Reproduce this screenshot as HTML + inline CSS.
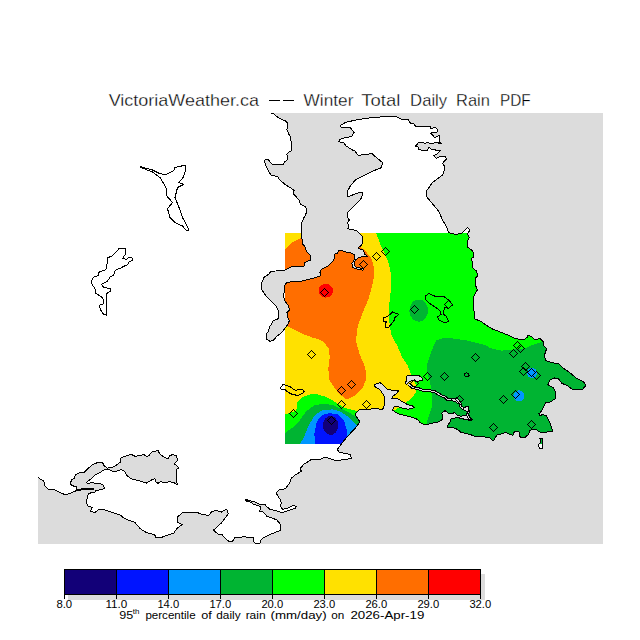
<!DOCTYPE html>
<html><head><meta charset="utf-8"><style>
html,body{margin:0;padding:0;background:#fff;width:640px;height:640px;overflow:hidden;position:relative}
</style></head><body>
<svg width="640" height="640" viewBox="0 0 640 640" style="position:absolute;left:0;top:0" shape-rendering="crispEdges">
<defs><clipPath id="land"><polygon points="38,113 271.4,113 273.75,113.6 276.6,116.4 280.3,118.8 285,120.7 287.3,123 287.3,126.75 286.9,129.6 288.75,134.25 290.2,136.1 290.6,140.8 291.6,141.75 291.6,150.7 289.7,151.6 286.9,154 287.3,156.75 287.3,160 284.5,161.9 283.6,164.25 272.3,164.25 269.5,161.4 268.6,159.6 265.3,159.6 264.4,161.4 265.3,164.25 267.2,168 268.4,171.25 271.25,175 277.8,176.9 279.7,179.7 284.4,183.9 290.9,188.1 294.2,190.5 293.3,193.75 299.4,200.3 300.3,204.1 305.9,206.9 306.4,210.6 305.9,214.4 303.6,218.1 301.9,222.5 301.25,226.25 301.25,237.5 302.5,240 302.5,243.75 305,246.9 306.25,251.25 310,255 310.6,260 307.5,261.25 305,262.5 303.75,266.9 296.25,266.9 293.1,266.25 288.75,268.1 283.75,270.6 270.6,271.25 269.4,273.75 263.75,277.5 262.5,281.25 261.25,282.5 261.25,283.75 261.9,290 266.25,296.25 271.25,301.25 276.25,306.25 278.1,310 278.1,318.75 272.5,321.25 271.25,325 269.4,326.9 268.75,331.25 266.25,333.75 266.9,339.4 270,341.25 273.1,340.6 276.25,336.9 280,333.75 283.75,330 287.5,325 289.4,320.6 287.5,317.5 286.9,312.5 289.4,310 288.75,306.25 285,301.25 283.75,297.5 284.4,286.25 286.25,283.1 290,281.9 298.75,281.9 306.25,280 316.25,277.5 320.6,275.6 320,272.5 321.25,269.4 327.5,266.25 330,264.2 333.9,260.3 334.7,254 337.8,252.9 338.6,250.5 341.7,250.2 344,251.7 351.1,252.9 354.2,254.5 355,258 353.4,261.1 351.9,263.4 352.7,267.3 355.8,268.75 362.8,270.1 363.6,268.9 356.6,267.3 355,265.8 354.2,262.7 355.8,259.9 358.1,258 362,256.8 367.5,256.4 364.4,254 363.6,250.2 358.9,248.6 358.1,247.4 361.25,245.5 362.8,243.1 362,240 362.5,236.25 360,233.75 357.5,231.25 353.75,230 347.5,228.75 348.75,226.25 347.5,222.5 349.4,220 347.5,217.5 347.2,213.1 352.3,208 357.5,202.8 361.8,197.7 362.7,192.5 359.2,192.5 352.3,195.1 348,196.8 347.2,191.6 350.6,185.6 355.8,179.6 364.4,175.3 373,171 381.6,167.6 382.4,162.4 378.1,159 372.1,153.8 364.4,154.3 358.4,155.5 354.9,151.1 351.5,149.5 346.3,146.1 343.75,142.7 338.6,141.8 340.3,139.2 345.5,137.5 351.5,136.6 354.1,132.3 350.6,128 341.2,127.2 340.3,125.5 345.5,122.4 355.8,120 366.1,118.25 381.6,116.9 396.2,116.5 400.5,118.6 402.8,119.8 405.6,119.2 408.4,119.8 410.3,123.1 414.1,124.1 415.5,126.4 430,126.4 430.9,128.75 434.7,127.3 437,128.75 437.5,132 432.8,132.5 430.5,133.4 432.8,135.3 434.7,137.65 437.5,136.25 439.4,135.3 439.8,142.3 441.25,143.3 436.6,142.8 430,143.3 427.2,142.3 425.3,143.75 423.4,142.3 418.75,142.3 415.5,146.1 417.8,146.6 418.75,149.4 421.6,150.3 427.2,150.3 429.1,147.5 431.9,149.4 440.3,150.8 436.6,154.1 433.75,155.5 436.1,158.3 439.4,156.9 445.5,156.4 446.4,159.2 443.1,162.5 442.7,163.9 444.5,166.25 444.5,170 442.5,175 432.5,182.5 426.25,191.25 426.25,196.25 432.5,203.75 438.75,211.25 442.5,220 446.25,226.25 448.75,232.8 455.3,234.2 460.9,233.75 463.75,231.4 465.6,229.5 467.5,227.5 470,230 467.5,233.75 469.4,237.5 467.5,241.25 467.5,246.9 471.25,249.7 473.6,252.5 473.6,257.2 471.7,258.1 472.2,262.8 473.1,268.4 476.9,271.25 477.3,276 475.9,277.8 475.9,286.25 477.3,290 473.75,296.25 473.75,307.5 474.7,318.75 481.25,321.6 485,324.4 492.5,329 500,331.9 508.4,335.3 515,338.6 523.75,339.7 527,337.5 528,335.3 531.4,336.4 534.7,339.7 540.2,338.6 543.4,341.9 543.4,345.2 546.7,348.4 544.5,355 545.6,360.5 552.2,362.7 558.75,364 563,368 569.7,372.5 576.25,378 584,382.3 586,385.6 582.8,389 571.9,389 567.5,385.6 562,383.4 558.75,379 554.4,378 550,380.2 547.8,384.5 553.3,387.8 555.5,392.2 555.5,398.75 550,402 545.6,403 543.4,407.5 540.2,413 538.9,413.5 539.5,415.3 543.6,414.7 546.5,415.9 548.3,419.4 549.5,421.7 550.6,425.2 553,431.1 548.3,431.7 542.4,432.9 540.1,432.3 536.6,429.9 531.9,429.3 529.5,431.1 528.4,434.6 524.8,437.5 520.2,437.5 519,431.7 514.3,431.7 513.1,435.2 509.6,434.6 506.1,432.3 501.4,434 496.7,435.2 494.4,439.3 493.2,441 491.4,439.3 489.7,437.5 485,437 482.5,436.9 475,436.5 470,434.4 461.25,432.5 457.5,429.4 452.5,427.25 447.5,427.25 448.1,425 450,421.9 451.25,418.75 457.5,417.5 462.5,418.75 467.5,420 471.25,420.6 467.5,413.1 466.25,415 461.25,416.25 457.5,415.6 454.4,412.5 452.5,413.75 448.1,413.1 445,410.6 441.9,413.1 442.5,417.5 441.9,420 437.5,422.5 432.5,423.1 425,425 420,422.5 417.5,419.4 411.25,417 405,415.5 398.75,413.9 395.6,412.3 392.5,410 394,406.9 398.75,406.9 403.4,408.4 408.1,409.2 414.4,407.7 412.8,406.1 407.3,404.5 401.9,401.4 397.2,398.3 391.7,398.3 392.5,396.7 397.2,392.8 398.75,390.5 392.5,390.5 387,388.9 383.1,385 380,382.7 376.9,383.4 374.5,385 375.3,387.3 380,389.7 381.6,392 383.1,394.4 384.7,397.5 384.7,402.2 383.9,406.9 382.3,410 376.9,408.4 369,409.2 358.9,410 357.3,411.6 355,414.7 357.3,417.8 359.7,421.7 357.3,425.6 353.4,430.3 347.2,436.6 341.7,443.6 337.2,449.5 339.5,452.7 346.6,453.4 350.5,455 351.25,458.1 345,459.7 335.6,460.5 331,458.9 326.25,457.3 322.3,458.1 320,459.7 311.4,459.4 307.5,462 303.6,464.4 300.5,468.3 301.25,471.4 295.8,474.5 291.1,478.4 289.5,483.1 285.6,488.6 278.6,490.2 276.25,493.3 278.6,497.2 280.6,500 281.25,502.5 280.6,506.25 282.5,509.4 287.5,508.1 292.5,505.6 296.25,506.25 295.6,508.1 290,510 285,511.9 281.25,512.5 276.25,510.6 270,509.4 266.25,506.25 265,504.4 260,504.4 256.25,502.5 250,500.6 245,499.4 245,500.6 250,501.9 253.75,504.4 260,506.25 260.6,508.75 259.4,511.25 263.1,511.9 266.9,516.25 272.5,518.1 276.9,520 280,523.75 280.6,527.5 280,530.6 275,532.5 270,534.4 265,536.9 261.25,539.4 260,543.1 256.25,543.75 253.75,541.9 253.75,537.5 243.75,536.9 235,537.5 232.5,541.25 228.75,541.25 225,538.1 221.9,534.4 218.1,534 213.4,530.2 221.25,523.1 228.3,513.75 226.7,509.1 221.25,512.2 216.6,510.6 211.9,511.4 208.75,515.3 202.5,514.5 196.25,512.2 190,513 183,512.2 177.5,516.9 177.5,522.3 182.2,524.7 177.5,527.8 173.6,533.3 168.9,534.8 161.9,537.2 155.6,537.2 154.8,534.8 146.25,532.5 140,528.5 135,522.5 125,518.75 120,515 112.5,512.5 105,510 98.75,509.4 95,512.5 90,511.25 92.5,507.5 88.1,506.25 86.25,502.5 87.7,495.5 89.2,493.1 94.7,492.7 95.5,490.8 102.5,489.2 104.5,488 103.3,485.3 100.9,483.75 96.25,483.4 91.6,482.6 87.7,483.5 86.5,482.5 88.4,480.8 90.7,479.2 92.3,477.5 94.7,475.2 99.4,472.8 104,470 108.75,469.7 111.25,470.6 115,471.9 121.25,469.4 125,471.9 127.5,476.25 132.5,479.4 138.75,480.6 146.25,483.1 152.5,479.4 154.8,478.6 155.6,481.7 158,483.3 160.3,481.7 165,482.5 169.7,481.7 173.6,482.5 177.5,484.8 176,479.4 176.7,474.7 176,470 179,467.7 174.4,463.75 177.5,460.6 176.7,455.9 172.8,454.4 169.7,455.9 168.1,459 163.4,456.7 159.5,453.6 158,450.5 151.7,452 148.6,455.9 146.25,456.25 143.75,454.4 140,455.6 135,456.25 131.25,454.4 125,456.25 120.6,458.1 120.6,461.9 117.5,464.4 112.5,467.5 107.5,468.1 104.4,466.25 102.5,462.5 97.5,462.5 92.3,465 88.4,468.1 84.5,472 78.3,473.2 75.2,475.2 74.4,478.3 71.25,480.2 70.5,484.5 73.6,486.1 76.7,486.5 77.1,489.2 75.9,490.8 69.7,493.5 65,494.7 61.25,493 53.75,489.5 48.75,489.5 45,486.25 43.75,481.25 38,477.5"/><polygon points="539.5,438.2 542.4,438.2 542.4,448.7 539.5,448.7 538.5,444.5 540.3,443 540.5,440.5"/></clipPath>
<clipPath id="dom"><rect x="285" y="233" width="318" height="211"/></clipPath></defs>
<rect x="38" y="113" width="565" height="431" fill="#dcdcdc"/>
<polygon points="38,113 271.4,113 273.75,113.6 276.6,116.4 280.3,118.8 285,120.7 287.3,123 287.3,126.75 286.9,129.6 288.75,134.25 290.2,136.1 290.6,140.8 291.6,141.75 291.6,150.7 289.7,151.6 286.9,154 287.3,156.75 287.3,160 284.5,161.9 283.6,164.25 272.3,164.25 269.5,161.4 268.6,159.6 265.3,159.6 264.4,161.4 265.3,164.25 267.2,168 268.4,171.25 271.25,175 277.8,176.9 279.7,179.7 284.4,183.9 290.9,188.1 294.2,190.5 293.3,193.75 299.4,200.3 300.3,204.1 305.9,206.9 306.4,210.6 305.9,214.4 303.6,218.1 301.9,222.5 301.25,226.25 301.25,237.5 302.5,240 302.5,243.75 305,246.9 306.25,251.25 310,255 310.6,260 307.5,261.25 305,262.5 303.75,266.9 296.25,266.9 293.1,266.25 288.75,268.1 283.75,270.6 270.6,271.25 269.4,273.75 263.75,277.5 262.5,281.25 261.25,282.5 261.25,283.75 261.9,290 266.25,296.25 271.25,301.25 276.25,306.25 278.1,310 278.1,318.75 272.5,321.25 271.25,325 269.4,326.9 268.75,331.25 266.25,333.75 266.9,339.4 270,341.25 273.1,340.6 276.25,336.9 280,333.75 283.75,330 287.5,325 289.4,320.6 287.5,317.5 286.9,312.5 289.4,310 288.75,306.25 285,301.25 283.75,297.5 284.4,286.25 286.25,283.1 290,281.9 298.75,281.9 306.25,280 316.25,277.5 320.6,275.6 320,272.5 321.25,269.4 327.5,266.25 330,264.2 333.9,260.3 334.7,254 337.8,252.9 338.6,250.5 341.7,250.2 344,251.7 351.1,252.9 354.2,254.5 355,258 353.4,261.1 351.9,263.4 352.7,267.3 355.8,268.75 362.8,270.1 363.6,268.9 356.6,267.3 355,265.8 354.2,262.7 355.8,259.9 358.1,258 362,256.8 367.5,256.4 364.4,254 363.6,250.2 358.9,248.6 358.1,247.4 361.25,245.5 362.8,243.1 362,240 362.5,236.25 360,233.75 357.5,231.25 353.75,230 347.5,228.75 348.75,226.25 347.5,222.5 349.4,220 347.5,217.5 347.2,213.1 352.3,208 357.5,202.8 361.8,197.7 362.7,192.5 359.2,192.5 352.3,195.1 348,196.8 347.2,191.6 350.6,185.6 355.8,179.6 364.4,175.3 373,171 381.6,167.6 382.4,162.4 378.1,159 372.1,153.8 364.4,154.3 358.4,155.5 354.9,151.1 351.5,149.5 346.3,146.1 343.75,142.7 338.6,141.8 340.3,139.2 345.5,137.5 351.5,136.6 354.1,132.3 350.6,128 341.2,127.2 340.3,125.5 345.5,122.4 355.8,120 366.1,118.25 381.6,116.9 396.2,116.5 400.5,118.6 402.8,119.8 405.6,119.2 408.4,119.8 410.3,123.1 414.1,124.1 415.5,126.4 430,126.4 430.9,128.75 434.7,127.3 437,128.75 437.5,132 432.8,132.5 430.5,133.4 432.8,135.3 434.7,137.65 437.5,136.25 439.4,135.3 439.8,142.3 441.25,143.3 436.6,142.8 430,143.3 427.2,142.3 425.3,143.75 423.4,142.3 418.75,142.3 415.5,146.1 417.8,146.6 418.75,149.4 421.6,150.3 427.2,150.3 429.1,147.5 431.9,149.4 440.3,150.8 436.6,154.1 433.75,155.5 436.1,158.3 439.4,156.9 445.5,156.4 446.4,159.2 443.1,162.5 442.7,163.9 444.5,166.25 444.5,170 442.5,175 432.5,182.5 426.25,191.25 426.25,196.25 432.5,203.75 438.75,211.25 442.5,220 446.25,226.25 448.75,232.8 455.3,234.2 460.9,233.75 463.75,231.4 465.6,229.5 467.5,227.5 470,230 467.5,233.75 469.4,237.5 467.5,241.25 467.5,246.9 471.25,249.7 473.6,252.5 473.6,257.2 471.7,258.1 472.2,262.8 473.1,268.4 476.9,271.25 477.3,276 475.9,277.8 475.9,286.25 477.3,290 473.75,296.25 473.75,307.5 474.7,318.75 481.25,321.6 485,324.4 492.5,329 500,331.9 508.4,335.3 515,338.6 523.75,339.7 527,337.5 528,335.3 531.4,336.4 534.7,339.7 540.2,338.6 543.4,341.9 543.4,345.2 546.7,348.4 544.5,355 545.6,360.5 552.2,362.7 558.75,364 563,368 569.7,372.5 576.25,378 584,382.3 586,385.6 582.8,389 571.9,389 567.5,385.6 562,383.4 558.75,379 554.4,378 550,380.2 547.8,384.5 553.3,387.8 555.5,392.2 555.5,398.75 550,402 545.6,403 543.4,407.5 540.2,413 538.9,413.5 539.5,415.3 543.6,414.7 546.5,415.9 548.3,419.4 549.5,421.7 550.6,425.2 553,431.1 548.3,431.7 542.4,432.9 540.1,432.3 536.6,429.9 531.9,429.3 529.5,431.1 528.4,434.6 524.8,437.5 520.2,437.5 519,431.7 514.3,431.7 513.1,435.2 509.6,434.6 506.1,432.3 501.4,434 496.7,435.2 494.4,439.3 493.2,441 491.4,439.3 489.7,437.5 485,437 482.5,436.9 475,436.5 470,434.4 461.25,432.5 457.5,429.4 452.5,427.25 447.5,427.25 448.1,425 450,421.9 451.25,418.75 457.5,417.5 462.5,418.75 467.5,420 471.25,420.6 467.5,413.1 466.25,415 461.25,416.25 457.5,415.6 454.4,412.5 452.5,413.75 448.1,413.1 445,410.6 441.9,413.1 442.5,417.5 441.9,420 437.5,422.5 432.5,423.1 425,425 420,422.5 417.5,419.4 411.25,417 405,415.5 398.75,413.9 395.6,412.3 392.5,410 394,406.9 398.75,406.9 403.4,408.4 408.1,409.2 414.4,407.7 412.8,406.1 407.3,404.5 401.9,401.4 397.2,398.3 391.7,398.3 392.5,396.7 397.2,392.8 398.75,390.5 392.5,390.5 387,388.9 383.1,385 380,382.7 376.9,383.4 374.5,385 375.3,387.3 380,389.7 381.6,392 383.1,394.4 384.7,397.5 384.7,402.2 383.9,406.9 382.3,410 376.9,408.4 369,409.2 358.9,410 357.3,411.6 355,414.7 357.3,417.8 359.7,421.7 357.3,425.6 353.4,430.3 347.2,436.6 341.7,443.6 337.2,449.5 339.5,452.7 346.6,453.4 350.5,455 351.25,458.1 345,459.7 335.6,460.5 331,458.9 326.25,457.3 322.3,458.1 320,459.7 311.4,459.4 307.5,462 303.6,464.4 300.5,468.3 301.25,471.4 295.8,474.5 291.1,478.4 289.5,483.1 285.6,488.6 278.6,490.2 276.25,493.3 278.6,497.2 280.6,500 281.25,502.5 280.6,506.25 282.5,509.4 287.5,508.1 292.5,505.6 296.25,506.25 295.6,508.1 290,510 285,511.9 281.25,512.5 276.25,510.6 270,509.4 266.25,506.25 265,504.4 260,504.4 256.25,502.5 250,500.6 245,499.4 245,500.6 250,501.9 253.75,504.4 260,506.25 260.6,508.75 259.4,511.25 263.1,511.9 266.9,516.25 272.5,518.1 276.9,520 280,523.75 280.6,527.5 280,530.6 275,532.5 270,534.4 265,536.9 261.25,539.4 260,543.1 256.25,543.75 253.75,541.9 253.75,537.5 243.75,536.9 235,537.5 232.5,541.25 228.75,541.25 225,538.1 221.9,534.4 218.1,534 213.4,530.2 221.25,523.1 228.3,513.75 226.7,509.1 221.25,512.2 216.6,510.6 211.9,511.4 208.75,515.3 202.5,514.5 196.25,512.2 190,513 183,512.2 177.5,516.9 177.5,522.3 182.2,524.7 177.5,527.8 173.6,533.3 168.9,534.8 161.9,537.2 155.6,537.2 154.8,534.8 146.25,532.5 140,528.5 135,522.5 125,518.75 120,515 112.5,512.5 105,510 98.75,509.4 95,512.5 90,511.25 92.5,507.5 88.1,506.25 86.25,502.5 87.7,495.5 89.2,493.1 94.7,492.7 95.5,490.8 102.5,489.2 104.5,488 103.3,485.3 100.9,483.75 96.25,483.4 91.6,482.6 87.7,483.5 86.5,482.5 88.4,480.8 90.7,479.2 92.3,477.5 94.7,475.2 99.4,472.8 104,470 108.75,469.7 111.25,470.6 115,471.9 121.25,469.4 125,471.9 127.5,476.25 132.5,479.4 138.75,480.6 146.25,483.1 152.5,479.4 154.8,478.6 155.6,481.7 158,483.3 160.3,481.7 165,482.5 169.7,481.7 173.6,482.5 177.5,484.8 176,479.4 176.7,474.7 176,470 179,467.7 174.4,463.75 177.5,460.6 176.7,455.9 172.8,454.4 169.7,455.9 168.1,459 163.4,456.7 159.5,453.6 158,450.5 151.7,452 148.6,455.9 146.25,456.25 143.75,454.4 140,455.6 135,456.25 131.25,454.4 125,456.25 120.6,458.1 120.6,461.9 117.5,464.4 112.5,467.5 107.5,468.1 104.4,466.25 102.5,462.5 97.5,462.5 92.3,465 88.4,468.1 84.5,472 78.3,473.2 75.2,475.2 74.4,478.3 71.25,480.2 70.5,484.5 73.6,486.1 76.7,486.5 77.1,489.2 75.9,490.8 69.7,493.5 65,494.7 61.25,493 53.75,489.5 48.75,489.5 45,486.25 43.75,481.25 38,477.5" fill="#fff"/>
<polygon points="539.5,438.2 542.4,438.2 542.4,448.7 539.5,448.7 538.5,444.5 540.3,443 540.5,440.5" fill="#fff"/>
<g clip-path="url(#land)"><g clip-path="url(#dom)">
<rect x="285" y="233" width="318" height="211" fill="#00ff00"/>
<polygon points="285,233 376.25,233 380,243.75 385,253.75 389,264 391,275 391.5,285 390,297.5 388.75,310 389.4,322.5 391.25,335 396.9,345 402.5,358 407.5,365 410.5,373 414,380.3 416.25,386 415.5,393 411,399 406,402.5 398,408 392,412 385,444 285,444" fill="#ffe100"/>
<polygon points="285,249.4 291.25,242.8 300.6,238.1 330,236 355,242 365.2,250.9 370.6,257.2 372.6,261.9 373.75,267.5 373.75,277.5 371.9,286.9 368.1,300 362.5,313.1 357.8,326.25 355.9,341.25 359.7,354.4 365.3,367.5 366.25,378.75 362.5,388.1 355,395.6 346.6,399.4 340,394.7 333.4,386.25 328.75,378.75 328.4,367.5 329.7,358.1 329.1,348.75 323.1,341.25 320,340 312.5,337.5 302.5,333.75 292.5,328.75 285,325" fill="#ff6e00"/>
<ellipse cx="325.8" cy="290.8" rx="7.3" ry="6.8" fill="#ff0000"/>
<polygon points="285,414.4 296.25,410.6 297.5,402.5 302.5,396.9 310,394.4 317.5,394.4 326.25,396.9 335,401.9 343.75,407.5 352.5,410 358,411 365,412 365,444 285,444" fill="#00ff00"/>
<polygon points="285,433.1 292.5,427.5 300,420 306.25,411.25 313.75,405.6 322.5,403.75 332.5,405 341.25,408.75 350,413.1 356.25,416.9 362,421.5 362,444 285,444" fill="#00b432"/>
<polygon points="299.7,444 303.75,437.5 308.75,425 315,415 322.5,410 332.5,409.4 340,411.25 347.5,416.25 353.75,422.5 359,428 362,444" fill="#0096ff"/>
<polygon points="315,444 314.4,433.75 316.9,421.25 322.5,415 330,413.1 337.5,414.4 343.75,420 346.9,430 346.9,444" fill="#0014ff"/>
<ellipse cx="330.6" cy="425.4" rx="7.6" ry="9.6" fill="#120078"/>
<polygon points="426,444 427,421 431.5,408 432.5,396 430,382 427.5,373 427,365 429,358 432.5,348.75 436.25,340.3 445.6,337.5 466.25,340.3 485,345 491,348.4 501.9,350.6 512.8,349.5 524.7,348.3 534,344.4 541.9,342 603,330 603,444" fill="#00b432"/>
<ellipse cx="418.75" cy="310.6" rx="9.4" ry="11" fill="#00b432"/>
<circle cx="532" cy="373" r="5" fill="#0096ff"/>
<circle cx="518.9" cy="395.8" r="5.5" fill="#0096ff"/>
</g></g>
<polyline points="408.5,384 412.5,387.5 418.75,388.75 422,390 430,390.9 434.7,391.6 437.8,393.6 441.7,395.9 444.8,396.9 447.2,399.1 451.9,399.5 456.6,399.8 460.5,403.75 461,406.9 463.6,408.8 467.5,409 468.3,411.6 467.5,414.7 469,417.8 471.4,420.5" fill="none" stroke="#000" stroke-width="3"/>
<polyline points="408.5,384 412.5,387.5 418.75,388.75 422,390 430,390.9 434.7,391.6 437.8,393.6 441.7,395.9 444.8,396.9 447.2,399.1 451.9,399.5 456.6,399.8 460.5,403.75 461,406.9 463.6,408.8 467.5,409 468.3,411.6 467.5,414.7 469,417.8 471.4,420.5" fill="none" stroke="#dcdcdc" stroke-width="1"/>
<g fill="#dcdcdc" stroke="#000" stroke-width="1" stroke-linejoin="miter">
<polygon points="406.5,376.5 408,375.2 419,375.5 422,378 422,380.5 417,381.3 412.5,380.5 409,382 406.5,384.5 405,383 407,380 406,378"/>
<polygon points="451.5,398.5 456.5,398 459,400 461.5,404 459.5,404.5 455,401.5 451.5,400.5"/>
<polygon points="463,407.5 468,406.5 469,411 466,411 463,409.5"/>
</g>
<g fill="none" stroke="#000" stroke-width="1" stroke-linejoin="round">
<polyline points="271.4,113 273.75,113.6 276.6,116.4 280.3,118.8 285,120.7 287.3,123 287.3,126.75 286.9,129.6 288.75,134.25 290.2,136.1 290.6,140.8 291.6,141.75 291.6,150.7 289.7,151.6 286.9,154 287.3,156.75 287.3,160 284.5,161.9 283.6,164.25 272.3,164.25 269.5,161.4 268.6,159.6 265.3,159.6 264.4,161.4 265.3,164.25 267.2,168 268.4,171.25 271.25,175 277.8,176.9 279.7,179.7 284.4,183.9 290.9,188.1 294.2,190.5 293.3,193.75 299.4,200.3 300.3,204.1 305.9,206.9 306.4,210.6 305.9,214.4 303.6,218.1 301.9,222.5 301.25,226.25 301.25,237.5 302.5,240 302.5,243.75 305,246.9 306.25,251.25 310,255 310.6,260 307.5,261.25 305,262.5 303.75,266.9 296.25,266.9 293.1,266.25 288.75,268.1 283.75,270.6 270.6,271.25 269.4,273.75 263.75,277.5 262.5,281.25 261.25,282.5 261.25,283.75 261.9,290 266.25,296.25 271.25,301.25 276.25,306.25 278.1,310 278.1,318.75 272.5,321.25 271.25,325 269.4,326.9 268.75,331.25 266.25,333.75 266.9,339.4 270,341.25 273.1,340.6 276.25,336.9 280,333.75 283.75,330 287.5,325 289.4,320.6 287.5,317.5 286.9,312.5 289.4,310 288.75,306.25 285,301.25 283.75,297.5 284.4,286.25 286.25,283.1 290,281.9 298.75,281.9 306.25,280 316.25,277.5 320.6,275.6 320,272.5 321.25,269.4 327.5,266.25 330,264.2 333.9,260.3 334.7,254 337.8,252.9 338.6,250.5 341.7,250.2 344,251.7 351.1,252.9 354.2,254.5 355,258 353.4,261.1 351.9,263.4 352.7,267.3 355.8,268.75 362.8,270.1 363.6,268.9 356.6,267.3 355,265.8 354.2,262.7 355.8,259.9 358.1,258 362,256.8 367.5,256.4 364.4,254 363.6,250.2 358.9,248.6 358.1,247.4 361.25,245.5 362.8,243.1 362,240 362.5,236.25 360,233.75 357.5,231.25 353.75,230 347.5,228.75 348.75,226.25 347.5,222.5 349.4,220 347.5,217.5 347.2,213.1 352.3,208 357.5,202.8 361.8,197.7 362.7,192.5 359.2,192.5 352.3,195.1 348,196.8 347.2,191.6 350.6,185.6 355.8,179.6 364.4,175.3 373,171 381.6,167.6 382.4,162.4 378.1,159 372.1,153.8 364.4,154.3 358.4,155.5 354.9,151.1 351.5,149.5 346.3,146.1 343.75,142.7 338.6,141.8 340.3,139.2 345.5,137.5 351.5,136.6 354.1,132.3 350.6,128 341.2,127.2 340.3,125.5 345.5,122.4 355.8,120 366.1,118.25 381.6,116.9 396.2,116.5 400.5,118.6 402.8,119.8 405.6,119.2 408.4,119.8 410.3,123.1 414.1,124.1 415.5,126.4 430,126.4 430.9,128.75 434.7,127.3 437,128.75 437.5,132 432.8,132.5 430.5,133.4 432.8,135.3 434.7,137.65 437.5,136.25 439.4,135.3 439.8,142.3 441.25,143.3 436.6,142.8 430,143.3 427.2,142.3 425.3,143.75 423.4,142.3 418.75,142.3 415.5,146.1 417.8,146.6 418.75,149.4 421.6,150.3 427.2,150.3 429.1,147.5 431.9,149.4 440.3,150.8 436.6,154.1 433.75,155.5 436.1,158.3 439.4,156.9 445.5,156.4 446.4,159.2 443.1,162.5 442.7,163.9 444.5,166.25 444.5,170 442.5,175 432.5,182.5 426.25,191.25 426.25,196.25 432.5,203.75 438.75,211.25 442.5,220 446.25,226.25 448.75,232.8 455.3,234.2 460.9,233.75 463.75,231.4 465.6,229.5 467.5,227.5 470,230 467.5,233.75 469.4,237.5 467.5,241.25 467.5,246.9 471.25,249.7 473.6,252.5 473.6,257.2 471.7,258.1 472.2,262.8 473.1,268.4 476.9,271.25 477.3,276 475.9,277.8 475.9,286.25 477.3,290 473.75,296.25 473.75,307.5 474.7,318.75 481.25,321.6 485,324.4 492.5,329 500,331.9 508.4,335.3 515,338.6 523.75,339.7 527,337.5 528,335.3 531.4,336.4 534.7,339.7 540.2,338.6 543.4,341.9 543.4,345.2 546.7,348.4 544.5,355 545.6,360.5 552.2,362.7 558.75,364 563,368 569.7,372.5 576.25,378 584,382.3 586,385.6 582.8,389 571.9,389 567.5,385.6 562,383.4 558.75,379 554.4,378 550,380.2 547.8,384.5 553.3,387.8 555.5,392.2 555.5,398.75 550,402 545.6,403 543.4,407.5 540.2,413 538.9,413.5 539.5,415.3 543.6,414.7 546.5,415.9 548.3,419.4 549.5,421.7 550.6,425.2 553,431.1 548.3,431.7 542.4,432.9 540.1,432.3 536.6,429.9 531.9,429.3 529.5,431.1 528.4,434.6 524.8,437.5 520.2,437.5 519,431.7 514.3,431.7 513.1,435.2 509.6,434.6 506.1,432.3 501.4,434 496.7,435.2 494.4,439.3 493.2,441 491.4,439.3 489.7,437.5 485,437 482.5,436.9 475,436.5 470,434.4 461.25,432.5 457.5,429.4 452.5,427.25 447.5,427.25 448.1,425 450,421.9 451.25,418.75 457.5,417.5 462.5,418.75 467.5,420 471.25,420.6 467.5,413.1 466.25,415 461.25,416.25 457.5,415.6 454.4,412.5 452.5,413.75 448.1,413.1 445,410.6 441.9,413.1 442.5,417.5 441.9,420 437.5,422.5 432.5,423.1 425,425 420,422.5 417.5,419.4 411.25,417 405,415.5 398.75,413.9 395.6,412.3 392.5,410 394,406.9 398.75,406.9 403.4,408.4 408.1,409.2 414.4,407.7 412.8,406.1 407.3,404.5 401.9,401.4 397.2,398.3 391.7,398.3 392.5,396.7 397.2,392.8 398.75,390.5 392.5,390.5 387,388.9 383.1,385 380,382.7 376.9,383.4 374.5,385 375.3,387.3 380,389.7 381.6,392 383.1,394.4 384.7,397.5 384.7,402.2 383.9,406.9 382.3,410 376.9,408.4 369,409.2 358.9,410 357.3,411.6 355,414.7 357.3,417.8 359.7,421.7 357.3,425.6 353.4,430.3 347.2,436.6 341.7,443.6 337.2,449.5 339.5,452.7 346.6,453.4 350.5,455 351.25,458.1 345,459.7 335.6,460.5 331,458.9 326.25,457.3 322.3,458.1 320,459.7 311.4,459.4 307.5,462 303.6,464.4 300.5,468.3 301.25,471.4 295.8,474.5 291.1,478.4 289.5,483.1 285.6,488.6 278.6,490.2 276.25,493.3 278.6,497.2 280.6,500 281.25,502.5 280.6,506.25 282.5,509.4 287.5,508.1 292.5,505.6 296.25,506.25 295.6,508.1 290,510 285,511.9 281.25,512.5 276.25,510.6 270,509.4 266.25,506.25 265,504.4 260,504.4 256.25,502.5 250,500.6 245,499.4 245,500.6 250,501.9 253.75,504.4 260,506.25 260.6,508.75 259.4,511.25 263.1,511.9 266.9,516.25 272.5,518.1 276.9,520 280,523.75 280.6,527.5 280,530.6 275,532.5 270,534.4 265,536.9 261.25,539.4 260,543.1 256.25,543.75 253.75,541.9 253.75,537.5 243.75,536.9 235,537.5 232.5,541.25 228.75,541.25 225,538.1 221.9,534.4 218.1,534 213.4,530.2 221.25,523.1 228.3,513.75 226.7,509.1 221.25,512.2 216.6,510.6 211.9,511.4 208.75,515.3 202.5,514.5 196.25,512.2 190,513 183,512.2 177.5,516.9 177.5,522.3 182.2,524.7 177.5,527.8 173.6,533.3 168.9,534.8 161.9,537.2 155.6,537.2 154.8,534.8 146.25,532.5 140,528.5 135,522.5 125,518.75 120,515 112.5,512.5 105,510 98.75,509.4 95,512.5 90,511.25 92.5,507.5 88.1,506.25 86.25,502.5 87.7,495.5 89.2,493.1 94.7,492.7 95.5,490.8 102.5,489.2 104.5,488 103.3,485.3 100.9,483.75 96.25,483.4 91.6,482.6 87.7,483.5 86.5,482.5 88.4,480.8 90.7,479.2 92.3,477.5 94.7,475.2 99.4,472.8 104,470 108.75,469.7 111.25,470.6 115,471.9 121.25,469.4 125,471.9 127.5,476.25 132.5,479.4 138.75,480.6 146.25,483.1 152.5,479.4 154.8,478.6 155.6,481.7 158,483.3 160.3,481.7 165,482.5 169.7,481.7 173.6,482.5 177.5,484.8 176,479.4 176.7,474.7 176,470 179,467.7 174.4,463.75 177.5,460.6 176.7,455.9 172.8,454.4 169.7,455.9 168.1,459 163.4,456.7 159.5,453.6 158,450.5 151.7,452 148.6,455.9 146.25,456.25 143.75,454.4 140,455.6 135,456.25 131.25,454.4 125,456.25 120.6,458.1 120.6,461.9 117.5,464.4 112.5,467.5 107.5,468.1 104.4,466.25 102.5,462.5 97.5,462.5 92.3,465 88.4,468.1 84.5,472 78.3,473.2 75.2,475.2 74.4,478.3 71.25,480.2 70.5,484.5 73.6,486.1 76.7,486.5 77.1,489.2 75.9,490.8 69.7,493.5 65,494.7 61.25,493 53.75,489.5 48.75,489.5 45,486.25 43.75,481.25 38,477.5"/>
<polygon points="140,166.25 145,168 152.5,170 160,173.75 166,174.5 173.75,170.5 175,167.5 186,165 185,172.5 182.5,178.75 178.75,182.5 183.75,184.5 177.5,187.5 175,197.5 179.5,208.75 182.5,217.5 186,223.75 188.75,230 186,230 182.5,226 175,222.5 170,217.5 167.5,208.75 172.5,202.5 166,195 166,187.5 160,177.5 152.5,172 141,167.5"/>
<polygon points="119.2,248.4 125.5,248.4 126,253.3 122.7,258.2 126.2,259.6 129,257.2 131.9,257.8 132.6,260.3 129,261.7 127.7,264.5 122,267.3 119.2,268.75 116.4,269.5 114.7,271.6 113.6,275 110,277.2 107.3,281.4 101.6,284.2 103.75,287.7 110.8,288.4 110.8,291.25 107.3,292.7 106.3,295.5 106.3,305.3 106.8,315.2 103.75,314.5 100.2,309.5 99.5,305.3 103,303.9 103.75,299.7 101.6,296.9 96,293.4 94.6,287.7 93.2,286.3 91.1,282.8 93.2,277.2 98.1,275.8 98.8,272.3 105.9,269.5 107.3,263.1 108,257.5 112.2,256.1"/>
<polygon points="425,296.25 428.75,293.5 435,296.25 444.4,296.9 450,301.25 452.5,305 448.1,308.75 445,306.9 443.1,313.75 446.25,316.25 448.75,321.25 445,323.1 438.75,320 437.5,316.9 441.25,314.4 440,310.6 435,306.9 430,303.75 426.25,300.6"/>
<polygon points="383.75,317.5 386.9,316.9 390,314.4 392.5,311.9 398.75,314.4 395,317.5 393.75,321.25 390,325.6 388.75,327.5 385.6,327.5 385.6,323.75 386.25,321.9 383.75,321.25 383.1,318.1"/>
<polygon points="280.2,387.6 283.7,384 285.6,385.2 289.5,386.4 293.4,389.1 295.8,390.3 301.25,389.1 304.4,391.1 302.8,393 298.1,395.4 292.7,394.6 288.75,392.7 285.2,389.9 281,389.1"/>
<polygon points="464.5,373.8 466.5,372.9 468.5,373.5 469.2,375.2 468,376.6 466,376.6 464.4,375.6"/>
<polygon points="539.5,438.2 542.4,438.2 542.4,448.7 539.5,448.7 538.5,444.5 540.3,443 540.5,440.5"/>
<polyline points="76,490.5 80,489.6 85,489 90,488.8 94,488.6" stroke-width="2"/>
</g>
<path fill="#000" d="M289 413h1v1h-1zM290 412h1v1h-1zM290 414h1v1h-1zM291 411h1v1h-1zM291 415h1v1h-1zM292 410h1v1h-1zM292 416h1v1h-1zM293 409h1v1h-1zM293 417h1v1h-1zM294 410h1v1h-1zM294 416h1v1h-1zM295 411h1v1h-1zM295 415h1v1h-1zM296 412h1v1h-1zM296 414h1v1h-1zM297 413h1v1h-1zM307 354h1v1h-1zM308 353h1v1h-1zM308 355h1v1h-1zM309 352h1v1h-1zM309 356h1v1h-1zM310 351h1v1h-1zM310 357h1v1h-1zM311 350h1v1h-1zM311 358h1v1h-1zM312 351h1v1h-1zM312 357h1v1h-1zM313 352h1v1h-1zM313 356h1v1h-1zM314 353h1v1h-1zM314 355h1v1h-1zM315 354h1v1h-1zM320 292h1v1h-1zM321 291h1v1h-1zM321 293h1v1h-1zM322 290h1v1h-1zM322 294h1v1h-1zM323 289h1v1h-1zM323 295h1v1h-1zM324 288h1v1h-1zM324 296h1v1h-1zM325 289h1v1h-1zM325 295h1v1h-1zM326 290h1v1h-1zM326 294h1v1h-1zM327 291h1v1h-1zM327 293h1v1h-1zM327 420h1v1h-1zM328 292h1v1h-1zM328 419h1v1h-1zM328 421h1v1h-1zM329 418h1v1h-1zM329 422h1v1h-1zM330 417h1v1h-1zM330 423h1v1h-1zM331 416h1v1h-1zM331 424h1v1h-1zM332 417h1v1h-1zM332 423h1v1h-1zM333 418h1v1h-1zM333 422h1v1h-1zM334 419h1v1h-1zM334 421h1v1h-1zM335 420h1v1h-1zM337 390h1v1h-1zM337 404h1v1h-1zM338 389h1v1h-1zM338 391h1v1h-1zM338 403h1v1h-1zM338 405h1v1h-1zM339 388h1v1h-1zM339 392h1v1h-1zM339 402h1v1h-1zM339 406h1v1h-1zM340 387h1v1h-1zM340 393h1v1h-1zM340 401h1v1h-1zM340 407h1v1h-1zM341 386h1v1h-1zM341 394h1v1h-1zM341 400h1v1h-1zM341 408h1v1h-1zM342 387h1v1h-1zM342 393h1v1h-1zM342 401h1v1h-1zM342 407h1v1h-1zM343 388h1v1h-1zM343 392h1v1h-1zM343 402h1v1h-1zM343 406h1v1h-1zM344 389h1v1h-1zM344 391h1v1h-1zM344 403h1v1h-1zM344 405h1v1h-1zM345 390h1v1h-1zM345 404h1v1h-1zM347 384h1v1h-1zM348 383h1v1h-1zM348 385h1v1h-1zM349 382h1v1h-1zM349 386h1v1h-1zM350 381h1v1h-1zM350 387h1v1h-1zM351 380h1v1h-1zM351 388h1v1h-1zM352 381h1v1h-1zM352 387h1v1h-1zM353 382h1v1h-1zM353 386h1v1h-1zM354 383h1v1h-1zM354 385h1v1h-1zM355 384h1v1h-1zM359 264h1v1h-1zM360 263h1v1h-1zM360 265h1v1h-1zM361 262h1v1h-1zM361 266h1v1h-1zM362 261h1v1h-1zM362 267h1v1h-1zM362 404h1v1h-1zM363 260h1v1h-1zM363 268h1v1h-1zM363 403h1v1h-1zM363 405h1v1h-1zM364 261h1v1h-1zM364 267h1v1h-1zM364 402h1v1h-1zM364 406h1v1h-1zM365 262h1v1h-1zM365 266h1v1h-1zM365 401h1v1h-1zM365 407h1v1h-1zM366 263h1v1h-1zM366 265h1v1h-1zM366 400h1v1h-1zM366 408h1v1h-1zM367 264h1v1h-1zM367 401h1v1h-1zM367 407h1v1h-1zM368 402h1v1h-1zM368 406h1v1h-1zM369 403h1v1h-1zM369 405h1v1h-1zM370 404h1v1h-1zM372 256h1v1h-1zM373 255h1v1h-1zM373 257h1v1h-1zM374 254h1v1h-1zM374 258h1v1h-1zM375 253h1v1h-1zM375 259h1v1h-1zM376 252h1v1h-1zM376 260h1v1h-1zM377 253h1v1h-1zM377 259h1v1h-1zM378 254h1v1h-1zM378 258h1v1h-1zM379 255h1v1h-1zM379 257h1v1h-1zM380 256h1v1h-1zM381 251h1v1h-1zM382 250h1v1h-1zM382 252h1v1h-1zM383 249h1v1h-1zM383 253h1v1h-1zM384 248h1v1h-1zM384 254h1v1h-1zM385 247h1v1h-1zM385 255h1v1h-1zM386 248h1v1h-1zM386 254h1v1h-1zM387 249h1v1h-1zM387 253h1v1h-1zM388 250h1v1h-1zM388 252h1v1h-1zM389 251h1v1h-1zM410 309h1v1h-1zM410 383h1v1h-1zM411 308h1v1h-1zM411 310h1v1h-1zM411 382h1v1h-1zM411 384h1v1h-1zM412 307h1v1h-1zM412 311h1v1h-1zM412 381h1v1h-1zM412 385h1v1h-1zM413 306h1v1h-1zM413 312h1v1h-1zM413 380h1v1h-1zM413 386h1v1h-1zM414 305h1v1h-1zM414 313h1v1h-1zM414 379h1v1h-1zM414 387h1v1h-1zM415 306h1v1h-1zM415 312h1v1h-1zM415 380h1v1h-1zM415 386h1v1h-1zM416 307h1v1h-1zM416 311h1v1h-1zM416 381h1v1h-1zM416 385h1v1h-1zM417 308h1v1h-1zM417 310h1v1h-1zM417 382h1v1h-1zM417 384h1v1h-1zM418 309h1v1h-1zM418 383h1v1h-1zM423 376h1v1h-1zM424 375h1v1h-1zM424 377h1v1h-1zM425 374h1v1h-1zM425 378h1v1h-1zM426 373h1v1h-1zM426 379h1v1h-1zM427 372h1v1h-1zM427 380h1v1h-1zM428 373h1v1h-1zM428 379h1v1h-1zM429 374h1v1h-1zM429 378h1v1h-1zM430 375h1v1h-1zM430 377h1v1h-1zM431 376h1v1h-1zM440 376h1v1h-1zM441 375h1v1h-1zM441 377h1v1h-1zM442 374h1v1h-1zM442 378h1v1h-1zM443 373h1v1h-1zM443 379h1v1h-1zM444 304h1v1h-1zM444 372h1v1h-1zM444 380h1v1h-1zM445 303h1v1h-1zM445 305h1v1h-1zM445 373h1v1h-1zM445 379h1v1h-1zM446 302h1v1h-1zM446 306h1v1h-1zM446 374h1v1h-1zM446 378h1v1h-1zM447 301h1v1h-1zM447 307h1v1h-1zM447 375h1v1h-1zM447 377h1v1h-1zM448 300h1v1h-1zM448 308h1v1h-1zM448 376h1v1h-1zM449 301h1v1h-1zM449 307h1v1h-1zM450 302h1v1h-1zM450 306h1v1h-1zM451 303h1v1h-1zM451 305h1v1h-1zM452 304h1v1h-1zM455 399h1v1h-1zM456 398h1v1h-1zM456 400h1v1h-1zM457 397h1v1h-1zM457 401h1v1h-1zM458 396h1v1h-1zM458 402h1v1h-1zM459 395h1v1h-1zM459 403h1v1h-1zM460 396h1v1h-1zM460 402h1v1h-1zM461 397h1v1h-1zM461 401h1v1h-1zM462 398h1v1h-1zM462 400h1v1h-1zM463 399h1v1h-1zM471 357h1v1h-1zM472 356h1v1h-1zM472 358h1v1h-1zM473 355h1v1h-1zM473 359h1v1h-1zM474 354h1v1h-1zM474 360h1v1h-1zM475 353h1v1h-1zM475 361h1v1h-1zM476 354h1v1h-1zM476 360h1v1h-1zM477 355h1v1h-1zM477 359h1v1h-1zM478 356h1v1h-1zM478 358h1v1h-1zM479 357h1v1h-1zM489 427h1v1h-1zM490 426h1v1h-1zM490 428h1v1h-1zM491 425h1v1h-1zM491 429h1v1h-1zM492 424h1v1h-1zM492 430h1v1h-1zM493 423h1v1h-1zM493 431h1v1h-1zM494 424h1v1h-1zM494 430h1v1h-1zM495 425h1v1h-1zM495 429h1v1h-1zM496 426h1v1h-1zM496 428h1v1h-1zM497 427h1v1h-1zM499 399h1v1h-1zM500 398h1v1h-1zM500 400h1v1h-1zM501 397h1v1h-1zM501 401h1v1h-1zM502 396h1v1h-1zM502 402h1v1h-1zM503 395h1v1h-1zM503 403h1v1h-1zM504 396h1v1h-1zM504 402h1v1h-1zM505 397h1v1h-1zM505 401h1v1h-1zM506 398h1v1h-1zM506 400h1v1h-1zM507 399h1v1h-1zM509 353h1v1h-1zM510 352h1v1h-1zM510 354h1v1h-1zM511 351h1v1h-1zM511 355h1v1h-1zM511 394h1v1h-1zM512 350h1v1h-1zM512 356h1v1h-1zM512 393h1v1h-1zM512 395h1v1h-1zM513 345h1v1h-1zM513 349h1v1h-1zM513 357h1v1h-1zM513 392h1v1h-1zM513 396h1v1h-1zM514 344h1v1h-1zM514 346h1v1h-1zM514 350h1v1h-1zM514 356h1v1h-1zM514 391h1v1h-1zM514 397h1v1h-1zM515 343h1v1h-1zM515 347h1v1h-1zM515 351h1v1h-1zM515 355h1v1h-1zM515 390h1v1h-1zM515 398h1v1h-1zM516 342h1v1h-1zM516 348h1v1h-1zM516 352h1v1h-1zM516 354h1v1h-1zM516 391h1v1h-1zM516 397h1v1h-1zM517 341h1v1h-1zM517 347h1v1h-1zM517 349h1v1h-1zM517 353h1v1h-1zM517 392h1v1h-1zM517 396h1v1h-1zM518 342h1v1h-1zM518 346h1v1h-1zM518 348h1v1h-1zM518 350h1v1h-1zM518 393h1v1h-1zM518 395h1v1h-1zM519 343h1v1h-1zM519 345h1v1h-1zM519 347h1v1h-1zM519 351h1v1h-1zM519 371h1v1h-1zM519 394h1v1h-1zM520 344h1v1h-1zM520 346h1v1h-1zM520 352h1v1h-1zM520 370h1v1h-1zM520 372h1v1h-1zM521 345h1v1h-1zM521 351h1v1h-1zM521 366h1v1h-1zM521 369h1v1h-1zM521 373h1v1h-1zM522 346h1v1h-1zM522 350h1v1h-1zM522 365h1v1h-1zM522 367h1v1h-1zM522 368h1v1h-1zM522 374h1v1h-1zM523 347h1v1h-1zM523 349h1v1h-1zM523 364h1v1h-1zM523 367h1v1h-1zM523 368h1v1h-1zM523 375h1v1h-1zM524 348h1v1h-1zM524 363h1v1h-1zM524 368h1v1h-1zM524 369h1v1h-1zM524 374h1v1h-1zM525 362h1v1h-1zM525 369h1v1h-1zM525 370h1v1h-1zM525 373h1v1h-1zM526 363h1v1h-1zM526 369h1v1h-1zM526 370h1v1h-1zM526 372h1v1h-1zM527 364h1v1h-1zM527 368h1v1h-1zM527 371h1v1h-1zM527 372h1v1h-1zM527 424h1v1h-1zM528 365h1v1h-1zM528 367h1v1h-1zM528 371h1v1h-1zM528 373h1v1h-1zM528 423h1v1h-1zM528 425h1v1h-1zM529 366h1v1h-1zM529 370h1v1h-1zM529 374h1v1h-1zM529 422h1v1h-1zM529 426h1v1h-1zM530 369h1v1h-1zM530 375h1v1h-1zM530 421h1v1h-1zM530 427h1v1h-1zM531 368h1v1h-1zM531 376h1v1h-1zM531 420h1v1h-1zM531 428h1v1h-1zM532 369h1v1h-1zM532 375h1v1h-1zM532 421h1v1h-1zM532 427h1v1h-1zM533 370h1v1h-1zM533 374h1v1h-1zM533 376h1v1h-1zM533 422h1v1h-1zM533 426h1v1h-1zM534 371h1v1h-1zM534 373h1v1h-1zM534 377h1v1h-1zM534 423h1v1h-1zM534 425h1v1h-1zM535 372h1v1h-1zM535 378h1v1h-1zM535 424h1v1h-1zM536 371h1v1h-1zM536 379h1v1h-1zM537 372h1v1h-1zM537 378h1v1h-1zM538 373h1v1h-1zM538 377h1v1h-1zM539 374h1v1h-1zM539 376h1v1h-1zM540 375h1v1h-1z"/>
<rect x="68" y="574" width="417" height="26" fill="#dcdcdc"/>
<rect x="64" y="569" width="52" height="25" fill="#120078"/>
<rect x="116" y="569" width="52" height="25" fill="#0014ff"/>
<rect x="168" y="569" width="52" height="25" fill="#0096ff"/>
<rect x="220" y="569" width="52" height="25" fill="#00b432"/>
<rect x="272" y="569" width="52" height="25" fill="#00ff00"/>
<rect x="324" y="569" width="52" height="25" fill="#ffe100"/>
<rect x="376" y="569" width="52" height="25" fill="#ff6e00"/>
<rect x="428" y="569" width="52" height="25" fill="#ff0000"/>
<g stroke="#000" stroke-width="1" fill="none">
<rect x="64.5" y="569.5" width="416" height="25"/>
<line x1="116.5" y1="569" x2="116.5" y2="594"/>
<line x1="168.5" y1="569" x2="168.5" y2="594"/>
<line x1="220.5" y1="569" x2="220.5" y2="594"/>
<line x1="272.5" y1="569" x2="272.5" y2="594"/>
<line x1="324.5" y1="569" x2="324.5" y2="594"/>
<line x1="376.5" y1="569" x2="376.5" y2="594"/>
<line x1="428.5" y1="569" x2="428.5" y2="594"/>
<line x1="64.5" y1="594" x2="64.5" y2="599"/>
<line x1="116.5" y1="594" x2="116.5" y2="599"/>
<line x1="168.5" y1="594" x2="168.5" y2="599"/>
<line x1="220.5" y1="594" x2="220.5" y2="599"/>
<line x1="272.5" y1="594" x2="272.5" y2="599"/>
<line x1="324.5" y1="594" x2="324.5" y2="599"/>
<line x1="376.5" y1="594" x2="376.5" y2="599"/>
<line x1="428.5" y1="594" x2="428.5" y2="599"/>
<line x1="480.5" y1="594" x2="480.5" y2="599"/>
</g>
<g font-family="Liberation Sans, sans-serif" font-size="10.3" fill="#000">
<text x="56.42" y="607.6" textLength="15.75" lengthAdjust="spacingAndGlyphs">8.0</text>
<text x="105.40" y="607.6" textLength="21.8" lengthAdjust="spacingAndGlyphs">11.0</text>
<text x="157.40" y="607.6" textLength="21.8" lengthAdjust="spacingAndGlyphs">14.0</text>
<text x="209.40" y="607.6" textLength="21.8" lengthAdjust="spacingAndGlyphs">17.0</text>
<text x="261.40" y="607.6" textLength="21.8" lengthAdjust="spacingAndGlyphs">20.0</text>
<text x="313.40" y="607.6" textLength="21.8" lengthAdjust="spacingAndGlyphs">23.0</text>
<text x="365.40" y="607.6" textLength="21.8" lengthAdjust="spacingAndGlyphs">26.0</text>
<text x="417.40" y="607.6" textLength="21.8" lengthAdjust="spacingAndGlyphs">29.0</text>
<text x="469.40" y="607.6" textLength="21.8" lengthAdjust="spacingAndGlyphs">32.0</text>
<text x="119.3" y="618.9" font-size="11" textLength="14" lengthAdjust="spacingAndGlyphs">95</text>
<text x="132.8" y="613.8" font-size="6.6" textLength="6.6" lengthAdjust="spacingAndGlyphs">th</text>
<text x="145.40" y="618.9" font-size="10.6" textLength="50.20" lengthAdjust="spacingAndGlyphs">percentile</text>
<text x="201.30" y="618.9" font-size="10.6" textLength="10.55" lengthAdjust="spacingAndGlyphs">of</text>
<text x="216.30" y="618.9" font-size="10.6" textLength="24.30" lengthAdjust="spacingAndGlyphs">daily</text>
<text x="245.65" y="618.9" font-size="10.6" textLength="19.95" lengthAdjust="spacingAndGlyphs">rain</text>
<text x="270.50" y="618.9" font-size="10.6" textLength="56.20" lengthAdjust="spacingAndGlyphs">(mm/day)</text>
<text x="331.15" y="618.9" font-size="10.6" textLength="13.05" lengthAdjust="spacingAndGlyphs">on</text>
<text x="350.40" y="618.9" font-size="10.6" textLength="73.95" lengthAdjust="spacingAndGlyphs">2026-Apr-19</text>
</g>
<text x="108.70" y="105.8" font-family="Liberation Sans, sans-serif" font-size="16.2" stroke="#fff" stroke-width="0.3" textLength="150.30" lengthAdjust="spacingAndGlyphs">VictoriaWeather.ca</text>
<text x="303.50" y="105.8" font-family="Liberation Sans, sans-serif" font-size="16.2" stroke="#fff" stroke-width="0.3" textLength="49.90" lengthAdjust="spacingAndGlyphs">Winter</text>
<text x="361.35" y="105.8" font-family="Liberation Sans, sans-serif" font-size="16.2" stroke="#fff" stroke-width="0.3" textLength="38.95" lengthAdjust="spacingAndGlyphs">Total</text>
<text x="410.10" y="105.8" font-family="Liberation Sans, sans-serif" font-size="16.2" stroke="#fff" stroke-width="0.3" textLength="37.05" lengthAdjust="spacingAndGlyphs">Daily</text>
<text x="456.00" y="105.8" font-family="Liberation Sans, sans-serif" font-size="16.2" stroke="#fff" stroke-width="0.3" textLength="33.90" lengthAdjust="spacingAndGlyphs">Rain</text>
<text x="499.90" y="105.8" font-family="Liberation Sans, sans-serif" font-size="16.2" stroke="#fff" stroke-width="0.3" textLength="30.70" lengthAdjust="spacingAndGlyphs">PDF</text>
<g stroke="#000" stroke-width="1.2"><line x1="269" y1="100.5" x2="280" y2="100.5"/><line x1="282.75" y1="100.5" x2="294" y2="100.5"/></g>
</svg>
</body></html>
